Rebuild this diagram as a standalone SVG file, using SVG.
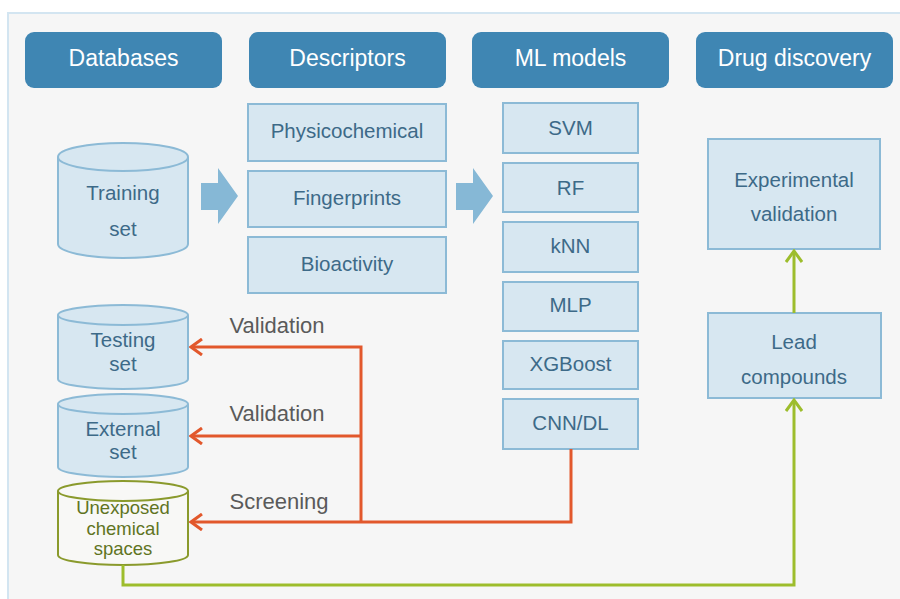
<svg xmlns="http://www.w3.org/2000/svg" width="900" height="599" viewBox="0 0 900 599">
<style>
text{font-family:"Liberation Sans",Arial,sans-serif;text-anchor:middle}
.hdr rect{fill:#3f86b3}
.hdr text{fill:#ffffff;font-size:23px}
.box rect{fill:#d7e7f1;stroke:#8cbad6;stroke-width:2}
.box text{fill:#3d6a88;font-size:20.5px}
.cyl path{fill:#d7e7f1;stroke:#8cbad6;stroke-width:2}
.cyl text{fill:#3d6a88;font-size:20.5px}
.cylg path{fill:#f8f8f6;stroke:#8a9a2c;stroke-width:2}
.cylg text{fill:#60741f;font-size:18.5px}
.lbl{fill:#5a5a5a;font-size:22px}
.or{fill:none;stroke:#e2582c;stroke-width:3}
.gr{fill:none;stroke:#9dbd2c;stroke-width:3}
.big{fill:#86b8d6}
</style>
<defs>
<marker id="ao" viewBox="0 0 14 18" refX="12" refY="9" markerWidth="14" markerHeight="18" markerUnits="userSpaceOnUse" orient="auto">
<path d="M1,1 L12,9 L1,17" fill="none" stroke="#e2582c" stroke-width="3"/>
</marker>
<marker id="ag" viewBox="0 0 14 18" refX="12" refY="9" markerWidth="14" markerHeight="18" markerUnits="userSpaceOnUse" orient="auto">
<path d="M1,1 L12,9 L1,17" fill="none" stroke="#9dbd2c" stroke-width="3"/>
</marker>
</defs>
<rect x="0" y="0" width="900" height="599" fill="#ffffff"/>
<rect x="8" y="13" width="900" height="600" fill="#f6f6f6" stroke="#d3e5f1" stroke-width="2"/>

<g id="h-databases" class="hdr"><rect x="25" y="32" width="197" height="56" rx="9"/><text x="123.5" y="66">Databases</text></g>
<g id="h-descriptors" class="hdr"><rect x="249" y="32" width="197" height="56" rx="9"/><text x="347.5" y="66">Descriptors</text></g>
<g id="h-ml" class="hdr"><rect x="472" y="32" width="197" height="56" rx="9"/><text x="570.5" y="66">ML models</text></g>
<g id="h-drug" class="hdr"><rect x="696" y="32" width="197" height="56" rx="9"/><text x="794.5" y="66">Drug discovery</text></g>

<g id="training" class="cyl">
<path d="M58,157 A65,14 0 0 1 188,157 L188,244 A65,14 0 0 1 58,244 Z"/>
<path d="M58,157 A65,14 0 0 0 188,157" fill="none"/>
<text x="123" y="200">Training</text><text x="123" y="236">set</text>
</g>

<g id="arrow1"><path class="big" d="M201,183 L218,183 L218,168 L238,196 L218,224 L218,210 L201,210 Z"/></g>
<g id="arrow2"><path class="big" d="M456,183 L473,183 L473,168 L493,196 L473,224 L473,210 L456,210 Z"/></g>

<g id="physicochemical" class="box"><rect x="248" y="104" width="198" height="57"/><text x="347" y="138">Physicochemical</text></g>
<g id="fingerprints" class="box"><rect x="248" y="171" width="198" height="56"/><text x="347" y="205">Fingerprints</text></g>
<g id="bioactivity" class="box"><rect x="248" y="237" width="198" height="56"/><text x="347" y="271">Bioactivity</text></g>

<g id="svm" class="box"><rect x="503" y="103" width="135" height="50"/><text x="570.5" y="135">SVM</text></g>
<g id="rf" class="box"><rect x="503" y="163" width="135" height="49"/><text x="570.5" y="195">RF</text></g>
<g id="knn" class="box"><rect x="503" y="222" width="135" height="50"/><text x="570.5" y="253">kNN</text></g>
<g id="mlp" class="box"><rect x="503" y="282" width="135" height="49"/><text x="570.5" y="312">MLP</text></g>
<g id="xgboost" class="box"><rect x="503" y="341" width="135" height="48"/><text x="570.5" y="371">XGBoost</text></g>
<g id="cnn" class="box"><rect x="503" y="399" width="135" height="50"/><text x="570.5" y="430">CNN/DL</text></g>

<g id="experimental" class="box"><rect x="708" y="139" width="172" height="110"/><text x="794" y="187">Experimental</text><text x="794" y="221">validation</text></g>
<g id="lead" class="box"><rect x="708" y="313" width="173" height="85"/><text x="794" y="349">Lead</text><text x="794" y="384">compounds</text></g>

<g id="testing" class="cyl">
<path d="M58,315 A65,10 0 0 1 188,315 L188,379 A65,10 0 0 1 58,379 Z"/>
<path d="M58,315 A65,10 0 0 0 188,315" fill="none"/>
<text x="123" y="347">Testing</text><text x="123" y="371">set</text>
</g>
<g id="external" class="cyl">
<path d="M58,404 A65,10 0 0 1 188,404 L188,467 A65,10 0 0 1 58,467 Z"/>
<path d="M58,404 A65,10 0 0 0 188,404" fill="none"/>
<text x="123" y="436">External</text><text x="123" y="459">set</text>
</g>
<g id="unexposed" class="cylg">
<path d="M58,491 A65,10 0 0 1 188,491 L188,555 A65,10 0 0 1 58,555 Z"/>
<path d="M58,491 A65,10 0 0 0 188,491" fill="none"/>
<text x="123" y="514">Unexposed</text><text x="123" y="535">chemical</text><text x="123" y="555">spaces</text>
</g>

<g id="connectors">
<path class="or" d="M571,449 L571,522 L191,522" marker-end="url(#ao)"/>
<path class="or" d="M361,522 L361,347 L191,347" marker-end="url(#ao)"/>
<path class="or" d="M361,436 L191,436" marker-end="url(#ao)"/>
<path class="gr" d="M123,565 L123,585 L794,585 L794,400" marker-end="url(#ag)"/>
<path class="gr" d="M794,313 L794,251" marker-end="url(#ag)"/>
<text class="lbl" x="277" y="333">Validation</text>
<text class="lbl" x="277" y="421">Validation</text>
<text class="lbl" x="279" y="509">Screening</text>
</g>
</svg>
